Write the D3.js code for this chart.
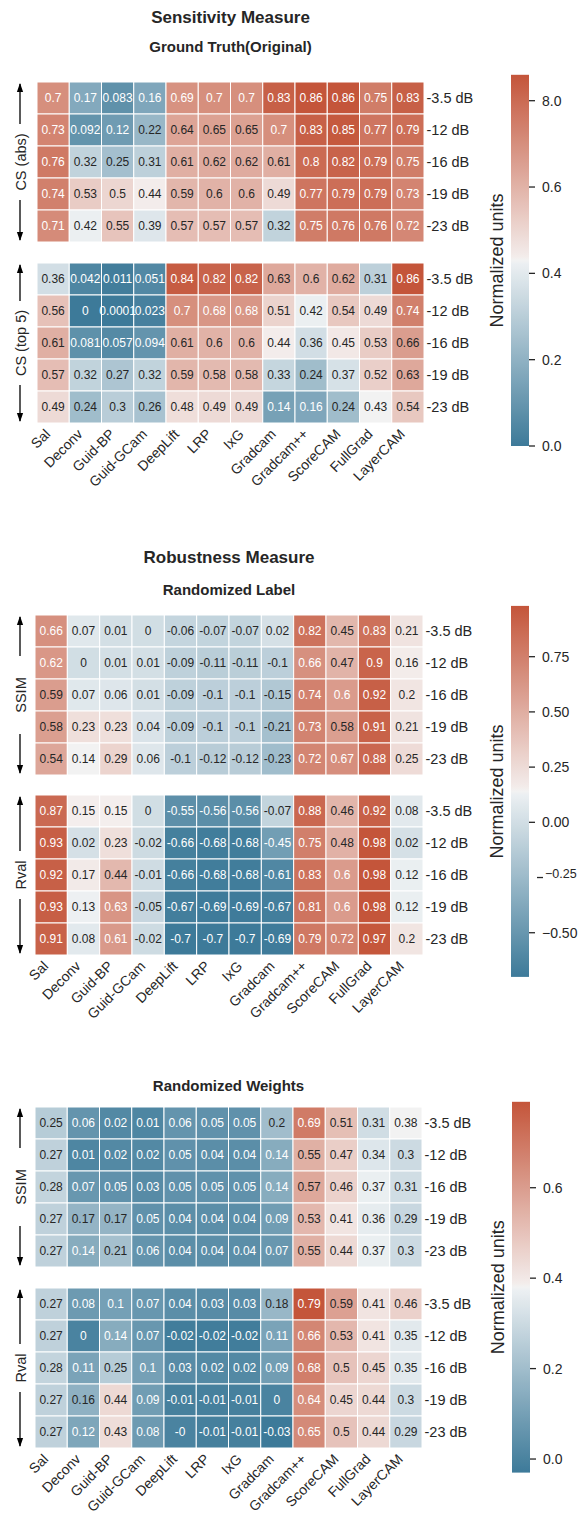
<!DOCTYPE html>
<html>
<head>
<meta charset="utf-8">
<script src="https://cdn.jsdelivr.net/npm/d3@7"></script>
<style>
  body { margin: 0; background: #fff; }
  svg { display: block; font-family: "Liberation Sans", Arial, Helvetica, sans-serif; }
</style>
</head>
<body>
<svg id="chart" width="580" height="1515"></svg>
<script>
// ---- data ----
const methods = ["Sal", "Deconv", "Guid-BP", "Guid-GCam", "DeepLift", "LRP", "IxG",
  "Gradcam", "Gradcam++", "ScoreCAM", "FullGrad", "LayerCAM"];
const snrLabels = ["-3.5 dB", "-12 dB", "-16 dB", "-19 dB", "-23 dB"];

// Sensitivity / Ground Truth(Original)
const gtCsAbs = [
  [0.7, 0.17, 0.083, 0.16, 0.69, 0.7, 0.7, 0.83, 0.86, 0.86, 0.75, 0.83],
  [0.73, 0.092, 0.12, 0.22, 0.64, 0.65, 0.65, 0.7, 0.83, 0.85, 0.77, 0.79],
  [0.76, 0.32, 0.25, 0.31, 0.61, 0.62, 0.62, 0.61, 0.8, 0.82, 0.79, 0.75],
  [0.74, 0.53, 0.5, 0.44, 0.59, 0.6, 0.6, 0.49, 0.77, 0.79, 0.79, 0.73],
  [0.71, 0.42, 0.55, 0.39, 0.57, 0.57, 0.57, 0.32, 0.75, 0.76, 0.76, 0.72]
];
const gtCsTop5 = [
  [0.36, 0.042, 0.011, 0.051, 0.84, 0.82, 0.82, 0.63, 0.6, 0.62, 0.31, 0.86],
  [0.56, 0, 0.0001, 0.023, 0.7, 0.68, 0.68, 0.51, 0.42, 0.54, 0.49, 0.74],
  [0.61, 0.081, 0.057, 0.094, 0.61, 0.6, 0.6, 0.44, 0.36, 0.45, 0.53, 0.66],
  [0.57, 0.32, 0.27, 0.32, 0.59, 0.58, 0.58, 0.33, 0.24, 0.37, 0.52, 0.63],
  [0.49, 0.24, 0.3, 0.26, 0.48, 0.49, 0.49, 0.14, 0.16, 0.24, 0.43, 0.54]
];
// Robustness / Randomized Label
const rlSsim = [
  [0.66, 0.07, 0.01, 0, -0.06, -0.07, -0.07, 0.02, 0.82, 0.45, 0.83, 0.21],
  [0.62, 0, 0.01, 0.01, -0.09, -0.11, -0.11, -0.1, 0.66, 0.47, 0.9, 0.16],
  [0.59, 0.07, 0.06, 0.01, -0.09, -0.1, -0.1, -0.15, 0.74, 0.6, 0.92, 0.2],
  [0.58, 0.23, 0.23, 0.04, -0.09, -0.1, -0.1, -0.21, 0.73, 0.58, 0.91, 0.21],
  [0.54, 0.14, 0.29, 0.06, -0.1, -0.12, -0.12, -0.23, 0.72, 0.67, 0.88, 0.25]
];
const rlRval = [
  [0.87, 0.15, 0.15, 0, -0.55, -0.56, -0.56, -0.07, 0.88, 0.46, 0.92, 0.08],
  [0.93, 0.02, 0.23, -0.02, -0.66, -0.68, -0.68, -0.45, 0.75, 0.48, 0.98, 0.02],
  [0.92, 0.17, 0.44, -0.01, -0.66, -0.68, -0.68, -0.61, 0.83, 0.6, 0.98, 0.12],
  [0.93, 0.13, 0.63, -0.05, -0.67, -0.69, -0.69, -0.67, 0.81, 0.6, 0.98, 0.12],
  [0.91, 0.08, 0.61, -0.02, -0.7, -0.7, -0.7, -0.69, 0.79, 0.72, 0.97, 0.2]
];
// Robustness / Randomized Weights
const rwSsim = [
  [0.25, 0.06, 0.02, 0.01, 0.06, 0.05, 0.05, 0.2, 0.69, 0.51, 0.31, 0.38],
  [0.27, 0.01, 0.02, 0.02, 0.05, 0.04, 0.04, 0.14, 0.55, 0.47, 0.34, 0.3],
  [0.28, 0.07, 0.05, 0.03, 0.05, 0.05, 0.05, 0.14, 0.57, 0.46, 0.37, 0.31],
  [0.27, 0.17, 0.17, 0.05, 0.04, 0.04, 0.04, 0.09, 0.53, 0.41, 0.36, 0.29],
  [0.27, 0.14, 0.21, 0.06, 0.04, 0.04, 0.04, 0.07, 0.55, 0.44, 0.37, 0.3]
];
const rwRval = [
  [0.27, 0.08, 0.1, 0.07, 0.04, 0.03, 0.03, 0.18, 0.79, 0.59, 0.41, 0.46],
  [0.27, 0, 0.14, 0.07, -0.02, -0.02, -0.02, 0.11, 0.66, 0.53, 0.41, 0.35],
  [0.28, 0.11, 0.25, 0.1, 0.03, 0.02, 0.02, 0.09, 0.68, 0.5, 0.45, 0.35],
  [0.27, 0.16, 0.44, 0.09, -0.01, -0.01, -0.01, 0, 0.64, 0.45, 0.44, 0.3],
  [0.27, 0.12, 0.43, 0.08, -0, -0.01, -0.01, -0.03, 0.65, 0.5, 0.44, 0.29]
];

// colorbar ticks (labels as printed in the figure)
const gtTicks = [0, 0.2, 0.4, 0.6, 0.8];
const gtTickLabels = ["0.0", "0.2", "0.4", "0.6", "8.0"];
const rlTicks = [-0.5, -0.25, 0, 0.25, 0.5, 0.75];
const rlTickLabels = ["\u22120.50", "\u22120.25", "0.00", "0.25", "0.50", "0.75"];
const rwTicks = [0, 0.2, 0.4, 0.6];
const rwTickLabels = ["0.0", "0.2", "0.4", "0.6"];

// ---- drawing ----
const svg = d3.select("#chart");
const ink = "#262626";

// seaborn diverging_palette(220, 20) approximation
const cLow = "#3d7a99", cLowGray = "#eef1f3", cMid = "#f2f2f2", cHighGray = "#f4efee", cHigh = "#c4553a";
function cmap(t) {
  t = Math.max(0, Math.min(1, t));
  if (t < 0.498) return d3.interpolateRgb(cLow, cLowGray)(t / 0.498);
  if (t > 0.502) return d3.interpolateRgb(cHighGray, cHigh)((t - 0.502) / 0.498);
  return cMid;
}
function lum(c) {
  const rgb = d3.rgb(c);
  const f = v => { v /= 255; return v <= 0.03928 ? v / 12.92 : Math.pow((v + 0.055) / 1.055, 2.4); };
  return 0.2126 * f(rgb.r) + 0.7152 * f(rgb.g) + 0.0722 * f(rgb.b);
}
const fmt = v => Object.is(v, -0) ? "-0" : String(v);

const panels = [
  { title: "Sensitivity Measure", titleY: 17, sub: "Ground Truth(Original)", subY: 47,
    left: 37, right: 424, vmin: 0, vmax: 0.86, cbTop: 74.8, cbBottom: 446, cbX: 511,
    ticks: gtTicks, tickLabels: gtTickLabels,
    blocks: [{ label: "CS (abs)", top: 82, data: gtCsAbs, gap: 38 },
             { label: "CS (top 5)", top: 263, data: gtCsTop5, gap: 42 }] },
  { title: "Robustness Measure", titleY: 557, sub: "Randomized Label", subY: 590,
    left: 35, right: 423, vmin: -0.70, vmax: 0.98, cbTop: 605.9, cbBottom: 976.9, cbX: 511,
    ticks: rlTicks, tickLabels: rlTickLabels,
    blocks: [{ label: "SSIM", top: 615, data: rlSsim, gap: 39 },
             { label: "Rval", top: 795, data: rlRval, gap: 24 }] },
  { title: null, sub: "Randomized Weights", subY: 1086,
    left: 35, right: 422, vmin: -0.03, vmax: 0.79, cbTop: 1101.8, cbBottom: 1472.6, cbX: 512,
    ticks: rwTicks, tickLabels: rwTickLabels,
    blocks: [{ label: "SSIM", top: 1107, data: rwSsim, gap: 39 },
             { label: "Rval", top: 1288, data: rwRval, gap: 24 }] }
];

const defs = svg.append("defs");
defs.append("marker").attr("id", "ah").attr("viewBox", "0 0 10 10")
  .attr("refX", 9).attr("refY", 5).attr("markerWidth", 9).attr("markerHeight", 9)
  .attr("markerUnits", "userSpaceOnUse").attr("orient", "auto")
  .append("path").attr("d", "M0,1.5 L10,5 L0,8.5 Z").attr("fill", "#000");

panels.forEach((p, pi) => {
  const g = svg.append("g");
  const cx = (p.left + p.right) / 2;
  const x = d3.scaleBand().domain(methods).range([p.left, p.right]);
  const t = d3.scaleLinear().domain([p.vmin, p.vmax]);

  if (p.title) {
    g.append("text").attr("x", cx).attr("y", p.titleY).attr("dy", "0.35em")
      .attr("text-anchor", "middle").attr("font-size", 17).attr("font-weight", "bold")
      .attr("fill", ink).text(p.title);
  }
  g.append("text").attr("x", cx).attr("y", p.subY).attr("dy", "0.35em")
    .attr("text-anchor", "middle").attr("font-size", 15).attr("font-weight", "bold")
    .attr("fill", ink).text(p.sub);

  p.blocks.forEach(b => {
    const y = d3.scaleBand().domain(snrLabels).range([b.top, b.top + 160]);
    const cells = [];
    b.data.forEach((row, ri) => row.forEach((v, ci) => cells.push({ r: snrLabels[ri], c: methods[ci], v })));

    const cg = g.append("g");
    cg.selectAll("rect").data(cells).join("rect")
      .attr("x", d => x(d.c)).attr("y", d => y(d.r))
      .attr("width", x.bandwidth()).attr("height", y.bandwidth())
      .attr("fill", d => cmap(t(d.v)))
      .attr("stroke", "#fff").attr("stroke-width", 1);
    cg.selectAll("text").data(cells).join("text")
      .attr("x", d => x(d.c) + x.bandwidth() / 2)
      .attr("y", d => y(d.r) + y.bandwidth() / 2)
      .attr("dy", "0.36em").attr("text-anchor", "middle").attr("font-size", 12)
      .attr("fill", d => lum(cmap(t(d.v))) > 0.408 ? ink : "#fff")
      .text(d => fmt(d.v));

    // row labels on the right
    g.append("g").selectAll("text").data(snrLabels).join("text")
      .attr("x", p.right + 2.5).attr("y", d => y(d) + y.bandwidth() / 2).attr("dy", "0.36em")
      .attr("font-size", 14.5).attr("fill", ink).text(d => d);

    // double arrow with label on the left
    const mid = b.top + 80, ax = 20;
    g.append("line").attr("x1", ax).attr("x2", ax).attr("y1", mid - b.gap).attr("y2", b.top + 2)
      .attr("stroke", "#000").attr("stroke-width", 1.3).attr("marker-end", "url(#ah)");
    g.append("line").attr("x1", ax).attr("x2", ax).attr("y1", mid + b.gap).attr("y2", b.top + 158)
      .attr("stroke", "#000").attr("stroke-width", 1.3).attr("marker-end", "url(#ah)");
    g.append("text").attr("transform", `translate(${ax + 5.5},${mid}) rotate(-90)`)
      .attr("text-anchor", "middle").attr("font-size", 14.5).attr("fill", ink).text(b.label);
  });

  // x tick labels under the second block
  const yb = p.blocks[1].top + 160;
  g.append("g").selectAll("text").data(methods).join("text")
    .attr("transform", d => `translate(${x(d) + x.bandwidth() / 2 - 2},${yb + 12}) rotate(-45)`)
    .attr("text-anchor", "end").attr("font-size", 14).attr("fill", ink).text(d => d);

  // colorbar
  const gid = "cb" + pi;
  const grad = defs.append("linearGradient").attr("id", gid)
    .attr("x1", 0).attr("y1", 1).attr("x2", 0).attr("y2", 0);
  d3.range(0, 101).forEach(i => grad.append("stop").attr("offset", i / 100).attr("stop-color", cmap(i / 100)));
  const cy = d3.scaleLinear().domain([p.vmin, p.vmax]).range([p.cbBottom, p.cbTop]);
  g.append("rect").attr("x", p.cbX).attr("y", p.cbTop).attr("width", 18)
    .attr("height", p.cbBottom - p.cbTop).attr("fill", `url(#${gid})`);
  const tg = g.append("g").selectAll("g").data(p.ticks).join("g")
    .attr("transform", d => `translate(0,${cy(d)})`);
  tg.append("line").attr("x1", d => p.cbX + 18 + (d === -0.25 ? 8 : 0))
    .attr("x2", d => p.cbX + 24 + (d === -0.25 ? 8 : 0))
    .attr("stroke", ink).attr("stroke-width", 1.3);
  tg.append("text").attr("x", d => p.cbX + 31 + (d === -0.25 ? 3 : 0))
    .attr("y", d => d === -0.25 ? -4 : 0).attr("dy", "0.36em")
    .attr("font-size", d => d === -0.25 ? 12.5 : 14).attr("fill", ink)
    .text((d, i) => p.tickLabels[i]);
  g.append("text")
    .attr("transform", `translate(${p.cbX - 8},${(p.cbTop + p.cbBottom) / 2}) rotate(-90)`)
    .attr("text-anchor", "middle").attr("font-size", 18).attr("fill", ink).text("Normalized units");
});
</script>
</body>
</html>
